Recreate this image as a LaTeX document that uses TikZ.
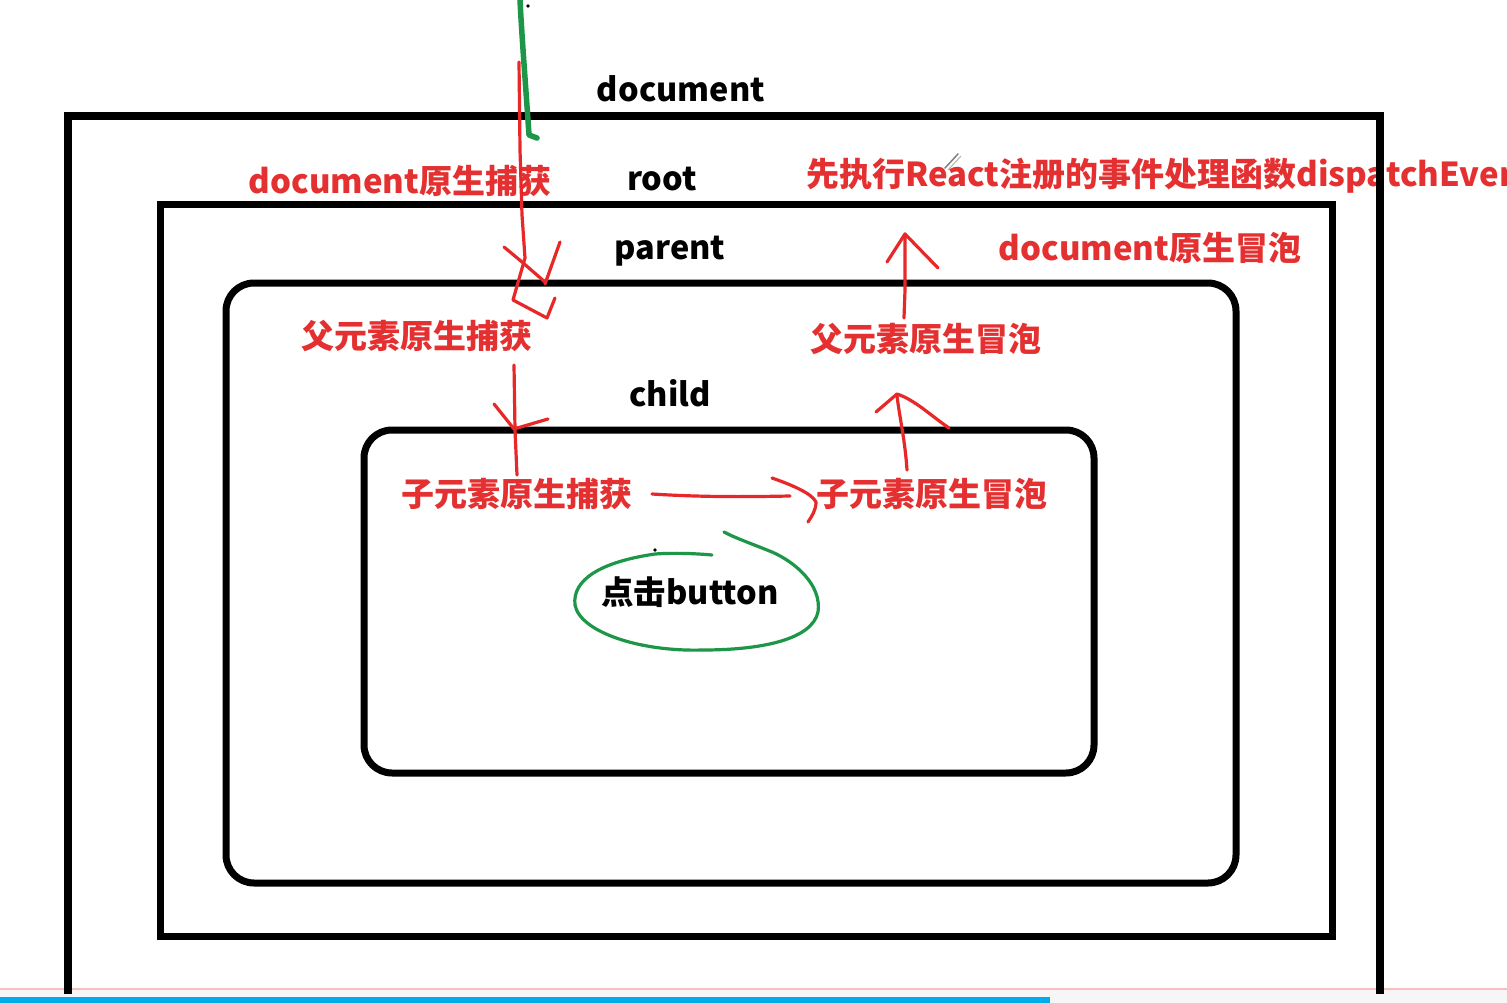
\documentclass[tikz,border=0pt]{standalone}
\usepackage{fontspec}
\setmainfont{Noto Sans CJK SC}
\definecolor{penred}{RGB}{232,40,40}
\definecolor{txtred}{RGB}{228,48,48}
\definecolor{marker}{RGB}{30,150,72}
\definecolor{pinkline}{RGB}{246,190,190}
\definecolor{bluebar}{RGB}{0,172,236}
\tikzset{
  boxline/.style={draw=black, line width=7pt},
  lbl/.style={font=\fontsize{32.5}{38}\selectfont\bfseries, text=black, inner sep=0pt},
  rlbl/.style={font=\fontsize{33}{38}\selectfont\bfseries, text=txtred, inner sep=0pt},
  pen/.style={draw=penred, line width=3.2pt, line cap=round, line join=round},
  gpen/.style={draw=marker, line width=3.2pt, line cap=round, line join=round}
}
\begin{document}
\begin{tikzpicture}[x=1pt,y=-1pt]
\useasboundingbox (0,0) rectangle (1507,1003);
\begin{scope}
\clip (0,0) rectangle (1507,1003);
\fill[white] (0,0) rectangle (1507,1003);
% bottom band
\fill[gray!7] (0,990) rectangle (1507,1003);
\draw[pinkline, line width=2pt] (0,989) -- (1507,989);
\fill[bluebar] (0,997) rectangle (1050,1003);

% red texts
\node[rlbl] (docCap) at (400,181) {document原生捕获};
\node[rlbl, anchor=west] (react) at (806,176) {先执行React注册的事件处理函数dispatchEvent};
\node[rlbl] (docBub) at (1150,248) {document原生冒泡};
\node[rlbl] (parCap) at (417,336) {父元素原生捕获};
\node[rlbl] (parBub) at (926,339) {父元素原生冒泡};
\node[rlbl] (chCap) at (517,494) {子元素原生捕获};
\node[rlbl] (chBub) at (932,494) {子元素原生冒泡};

% black labels
\node[lbl] (docL) at (681,89) {document};
\node[lbl] (rootL) at (662,179) {root};
\node[lbl] (parL) at (670,251) {parent};
\node[lbl] (chL) at (670,393) {child};
\node[lbl] (btn) at (690,592) {点击button};

% boxes
\draw[boxline, line width=8pt] (68,994) -- (68,116) -- (1380,116) -- (1380,994);
\draw[boxline] (160,205) rectangle (1332,936);
\draw[boxline, rounded corners=28pt] (226,283) rectangle (1236,883);
\draw[boxline, rounded corners=28pt] (364,430) rectangle (1094,773);

% red hand-drawn arrows
% document capture -> parent
\draw[pen] (519,62) -- (520,150) -- (522,215) -- (525,258) -- (513,300) -- (547,318) -- (555,298);
\draw[pen] (504,247) -- (522,262) -- (545,282);
\draw[pen] (560,242) -- (545,284);
% parent capture -> child
\draw[pen] (514,365) -- (515,430) -- (517,475);
\draw[pen] (494,404) -- (514,429) -- (548,419);
% child capture -> child bubble
\draw[pen] (652,494) .. controls (700,497) and (740,497) .. (790,496);
\draw[pen] (772,478) .. controls (795,486) and (812,494) .. (816,502) .. controls (816,510) and (812,516) .. (808,522);
% child bubble -> parent
\draw[pen] (907,470) .. controls (905,440) and (900,420) .. (897,396);
\draw[pen] (876,412) -- (897,394) .. controls (915,400) and (930,415) .. (949,428);
% parent bubble -> document
\draw[pen] (904,318) -- (905,290) -- (905,234);
\draw[pen] (887,262) -- (905,234) -- (938,268);

% green strokes
\draw[gpen, line width=5.5pt] (520,0) .. controls (522,40) and (526,90) .. (529,135) -- (537,138);
\draw[gpen] (712,555) .. controls (690,553) and (670,553) .. (655,554)
  .. controls (600,562) and (572,580) .. (575,605)
  .. controls (580,632) and (640,652) .. (703,650)
  .. controls (760,650) and (812,640) .. (818,612)
  .. controls (822,585) and (795,562) .. (772,552)
  .. controls (755,545) and (735,538) .. (724,532);
\fill (655,550) circle (1.8pt);
\fill (528,6) circle (1.8pt);
% pen cursor
\draw[gray, line width=1.5pt, line cap=round] (945,168) -- (958,154);
\draw[gray!60, line width=1pt] (948,170) -- (961,156);
\end{scope}
\end{tikzpicture}
\end{document}
